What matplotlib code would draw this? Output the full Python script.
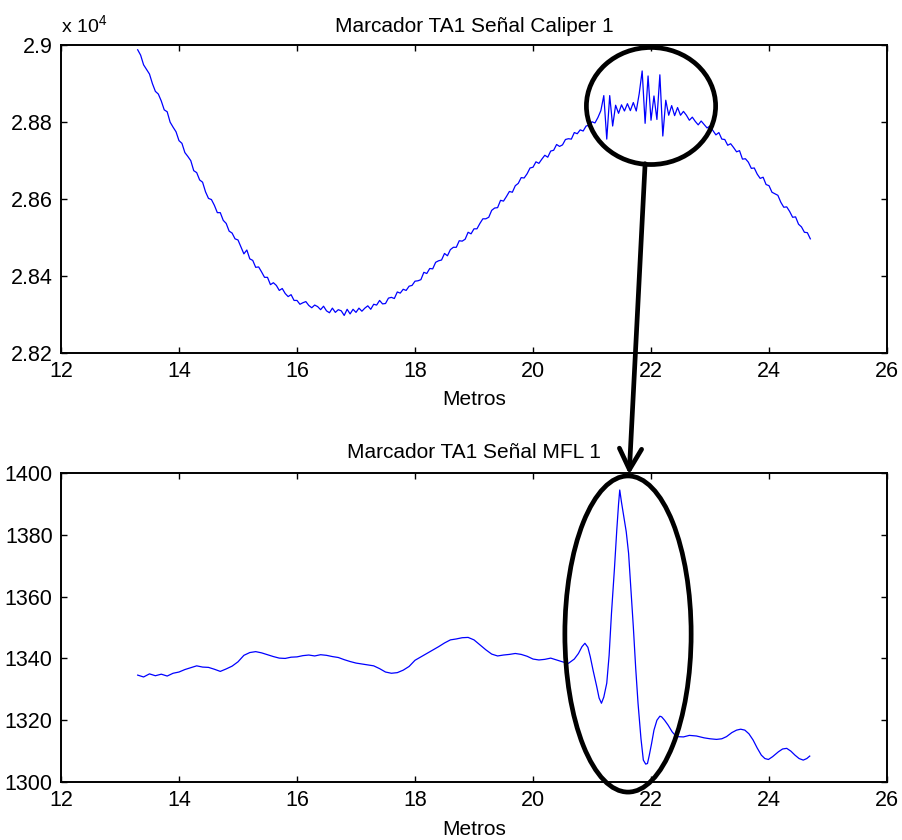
import numpy as np
import matplotlib
matplotlib.use("Agg")
import matplotlib.pyplot as plt
from matplotlib.patches import Ellipse, ConnectionPatch
from matplotlib.ticker import FuncFormatter

plt.rcParams['font.family'] = ['Liberation Sans', 'DejaVu Sans']
plt.rcParams['mathtext.fontset'] = 'custom'
plt.rcParams['mathtext.rm'] = 'Liberation Sans'

# Señal Caliper 1: una muestra cada 5 cm, de 13.3 m a 24.7 m
caliper_inicio, caliper_fin = 13.3, 24.7
caliper = [
    28987, 28973, 28948, 28936, 28924, 28899, 28879, 28872, 28854, 28831, 28826, 28799, 28786, 28774,
    28751, 28744, 28720, 28710, 28699, 28673, 28668, 28649, 28643, 28618, 28601, 28598, 28583, 28564, 28564, 28544, 28536, 28516, 28511, 28496,
    28493, 28475, 28457, 28467, 28444, 28440, 28422, 28423, 28410, 28396, 28396, 28377, 28382, 28375, 28362, 28367, 28354, 28346, 28351, 28336,
    28336, 28326, 28330, 28333, 28323, 28317, 28324, 28320, 28312, 28321, 28309, 28304, 28316, 28305, 28312, 28309, 28297, 28313, 28301, 28313,
    28305, 28316, 28308, 28316, 28322, 28313, 28326, 28324, 28336, 28327, 28328, 28342, 28344, 28341, 28358, 28355, 28365, 28362, 28373, 28375,
    28386, 28387, 28390, 28409, 28406, 28419, 28418, 28435, 28439, 28441, 28458, 28452, 28468, 28474, 28474, 28491, 28490, 28495, 28513, 28509,
    28522, 28522, 28536, 28548, 28548, 28552, 28570, 28576, 28577, 28596, 28594, 28606, 28619, 28617, 28634, 28640, 28655, 28654, 28665, 28680,
    28682, 28696, 28692, 28703, 28713, 28708, 28724, 28726, 28741, 28736, 28740, 28754, 28756, 28755, 28772, 28769, 28779, 28776, 28789, 28791,
    28800, 28797, 28811, 28829, 28868, 28755, 28868, 28789, 28843, 28822, 28844, 28828, 28847, 28829, 28850, 28828, 28873, 28932, 28796, 28919,
    28804, 28867, 28806, 28922, 28763, 28856, 28817, 28842, 28816, 28837, 28817, 28827, 28817, 28804, 28812, 28801, 28792, 28802, 28793, 28784,
    28789, 28777, 28766, 28772, 28755, 28754, 28739, 28743, 28733, 28722, 28725, 28703, 28704, 28695, 28679, 28680, 28664, 28653, 28656, 28637,
    28634, 28617, 28613, 28609, 28591, 28578, 28579, 28567, 28552, 28553, 28534, 28527, 28513, 28512, 28496,
]
caliper_metros = np.linspace(caliper_inicio, caliper_fin, len(caliper))

# Señal MFL 1
mfl_metros = [
    13.3, 13.4, 13.5, 13.6, 13.7, 13.8, 13.9, 14.0, 14.1, 14.2, 14.3, 14.4, 14.5, 14.6, 14.7, 14.8, 14.9,
    15.0, 15.1, 15.2, 15.3, 15.4, 15.5, 15.6, 15.7, 15.8, 15.9, 16.0, 16.1, 16.2, 16.3, 16.4, 16.5, 16.6,
    16.7, 16.8, 16.9, 17.0, 17.1, 17.2, 17.3, 17.4, 17.5, 17.6, 17.7, 17.8, 17.9, 18.0, 18.1, 18.2, 18.3,
    18.4, 18.5, 18.6, 18.7, 18.8, 18.9, 19.0, 19.1, 19.2, 19.3, 19.4, 19.5, 19.6, 19.7, 19.8, 19.9, 20.0,
    20.1, 20.2, 20.3, 20.4, 20.5, 20.6, 20.7, 20.77, 20.83, 20.88, 20.93, 20.97, 21.02, 21.08, 21.12,
    21.16, 21.20, 21.25, 21.29, 21.33, 21.38, 21.42, 21.45, 21.47, 21.50, 21.53, 21.58, 21.62, 21.66,
    21.70, 21.74, 21.78, 21.83, 21.87, 21.91, 21.94, 21.97, 22.01, 22.05, 22.10, 22.15, 22.18, 22.23,
    22.29, 22.36, 22.43, 22.55, 22.65, 22.77, 22.9, 23.0, 23.11, 23.2, 23.28, 23.37, 23.45, 23.52, 23.59,
    23.66, 23.73, 23.8, 23.87, 23.93, 23.99, 24.06, 24.16, 24.23, 24.30, 24.37, 24.44, 24.51, 24.58,
    24.64, 24.69,
]
mfl = [
    1334.6, 1334.0, 1335.0, 1334.4, 1334.9, 1334.3, 1335.2, 1335.6, 1336.4, 1337.0, 1337.6, 1337.2, 1337.1, 1336.5, 1335.8, 1336.6, 1337.5,
    1338.9, 1341.0, 1341.9, 1342.2, 1341.8, 1341.2, 1340.6, 1340.1, 1340.0, 1340.4, 1340.5, 1340.9, 1341.1, 1340.8, 1341.2, 1341.0, 1340.6,
    1340.3, 1339.6, 1339.0, 1338.5, 1338.2, 1337.9, 1337.6, 1336.7, 1335.6, 1335.2, 1335.4, 1336.2, 1337.4, 1339.4, 1340.5, 1341.6, 1342.7,
    1343.8, 1345.0, 1346.0, 1346.3, 1346.7, 1346.8, 1346.0, 1344.4, 1342.8, 1341.4, 1340.8, 1341.1, 1341.3, 1341.6, 1341.3, 1340.7, 1339.8,
    1339.5, 1339.7, 1340.1, 1339.5, 1338.9, 1338.4, 1339.8, 1341.6, 1343.8, 1344.9, 1343.6, 1340.6, 1336.0, 1330.9, 1327.2,
    1325.5, 1327.5, 1332.0, 1341.0, 1354.6, 1369.0, 1381.6, 1390.0, 1394.5, 1390.5, 1387.0, 1381.0, 1374.0, 1362.0,
    1350.3, 1337.0, 1325.5, 1314.0, 1307.1, 1305.8, 1306.0, 1308.6, 1312.5, 1316.8, 1320.0, 1321.3, 1321.1, 1320.0,
    1318.4, 1316.2, 1314.7, 1314.6, 1315.1, 1314.9, 1314.3, 1314.0, 1313.8, 1314.0, 1314.7, 1316.0, 1316.8, 1317.1, 1316.8,
    1315.6, 1313.6, 1311.0, 1308.7, 1307.6, 1307.3, 1308.2, 1309.8, 1310.7, 1310.9, 1310.0, 1308.7, 1307.6, 1307.1,
    1307.6, 1308.4,
]

x_ticks = [12, 14, 16, 18, 20, 22, 24, 26]
caliper_ticks = [28200, 28400, 28600, 28800, 29000]
mfl_ticks = [1300, 1320, 1340, 1360, 1380, 1400]

fig = plt.figure(figsize=(9.02, 8.4), dpi=100)
ax1 = fig.add_axes([0.0676, 0.580, 0.9158, 0.3667])
ax2 = fig.add_axes([0.0676, 0.069, 0.9158, 0.3679])


def estilo(ax):
    ax.tick_params(direction='in', length=4, width=1, top=True, right=True,
                   labelsize=15.5, pad=6, colors='black')
    for s in ax.spines.values():
        s.set_linewidth(1.4)


ax1.plot(caliper_metros, caliper, color='#0000ff', lw=0.9)
ax1.set_xlim(12, 26)
ax1.set_ylim(28200, 29000)
ax1.set_xticks(x_ticks)
ax1.set_yticks(caliper_ticks)
ax1.yaxis.set_major_formatter(FuncFormatter(lambda v, p: f'{v / 1e4:g}'))
ax1.set_title('Marcador TA1 Señal Caliper 1', fontsize=15, pad=9)
ax1.set_xlabel('Metros', fontsize=15, labelpad=6)
ax1.text(0.0, 1.025, r'x 10$^4$', transform=ax1.transAxes, fontsize=14, va='bottom')
estilo(ax1)

ax2.plot(mfl_metros, mfl, color='#0000ff', lw=0.9)
ax2.set_xlim(12, 26)
ax2.set_ylim(1300, 1400)
ax2.set_xticks(x_ticks)
ax2.set_yticks(mfl_ticks)
ax2.set_title('Marcador TA1 Señal MFL 1', fontsize=15, pad=11)
ax2.set_xlabel('Metros', fontsize=15, labelpad=6)
estilo(ax2)

# marcas resaltando la zona del marcador
ax1.add_patch(Ellipse((22.0, 28841), 2.19, 304, fill=False, lw=3.4,
                      edgecolor='black', clip_on=False, zorder=5))
ax2.add_patch(Ellipse((21.61, 1347.9), 2.14, 102.3, fill=False, lw=3.4,
                      edgecolor='black', clip_on=False, zorder=5))
flecha = ConnectionPatch(xyA=(21.9, 28691), coordsA=ax1.transData,
                         xyB=(21.63, 1399.5), coordsB=ax2.transData,
                         arrowstyle='->,head_length=0.75,head_width=0.4',
                         mutation_scale=20, lw=3.4, color='black', zorder=6)
fig.add_artist(flecha)

fig.savefig('out.png', dpi=100)
